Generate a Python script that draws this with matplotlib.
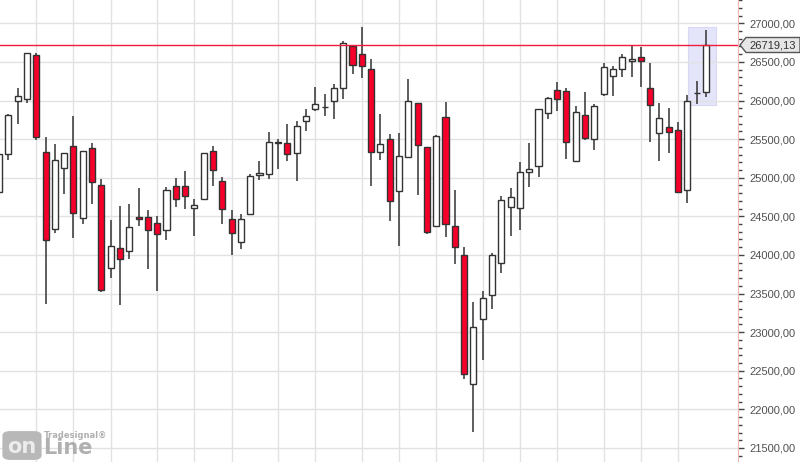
import numpy as np
import matplotlib
matplotlib.use("Agg")
import matplotlib.pyplot as plt
from matplotlib.patches import Polygon, FancyBboxPatch, Rectangle
from matplotlib.ticker import MultipleLocator, FuncFormatter

# weekly candles
opens = [24811, 25312, 25990, 26024, 26586, 25338, 24341, 25122, 25407, 24475,
         25381, 24902, 23827, 24086, 24047, 24487, 24487, 24410, 24319, 24889,
         24889, 24604, 24729, 25342, 24954, 24462, 24164, 24526, 25031, 25044,
         25459, 25446, 25325, 25735, 25886, 25910, 25990, 26158, 26702, 26599,
         26404, 25329, 25498, 24824, 25265, 25964, 25394, 24371, 25783, 24371,
         23995, 22325, 23167, 23477, 23892, 24617, 24604, 25070, 25148, 25843,
         26132, 26119, 25213, 25809, 25498, 26080, 26314, 26404, 26508, 26560,
         26158, 25575, 25653, 25614, 24837, 26093, 26106]
highs = [25350, 25820, 26163, 26615, 26611, 25528, 25437, 25320, 25800, 25345,
         25446, 24980, 24453, 24634, 24660, 24867, 24582, 24505, 24876, 24993,
         25088, 24721, 25325, 25411, 25006, 24582, 24531, 25049, 25213, 25593,
         25498, 25696, 25735, 25891, 26175, 26085, 26214, 26767, 26724, 26948,
         26534, 25826, 25562, 25580, 26279, 25970, 25400, 25554, 25981, 24841,
         24103, 23391, 23533, 24021, 24759, 24867, 25204, 25450, 25890, 26050,
         26240, 26158, 25925, 26111, 25951, 26486, 26443, 26603, 26706, 26693,
         26491, 25968, 25908, 25722, 26068, 26253, 26914]
lows = [24780, 25234, 25701, 25973, 25489, 23361, 24289, 24794, 24224, 24397,
        24665, 23516, 23706, 23348, 23952, 24375, 23823, 23533, 24198, 24626,
        24600, 24250, 24716, 24898, 24405, 24004, 24082, 24520, 24975, 24988,
        25118, 25221, 24962, 25610, 25870, 25804, 25757, 26024, 26348, 26296,
        24898, 25234, 24444, 24121, 25260, 24781, 24267, 24365, 24237, 23887,
        22398, 21712, 22644, 23305, 23771, 24250, 24323, 24885, 25014, 25765,
        25869, 25247, 25210, 25493, 25364, 26063, 26063, 26309, 26309, 26180,
        25467, 25221, 25325, 24807, 24677, 25960, 26050]
closes = [25303, 25809, 26063, 26611, 25524, 24194, 25226, 25316, 24539, 25342,
          24949, 23542, 24112, 23944, 24358, 24462, 24319, 24267, 24837, 24721,
          24759, 24643, 25316, 25096, 24591, 24280, 24462, 25018, 25057, 25459,
          25450, 25312, 25666, 25796, 25960, 25915, 26158, 26741, 26456, 26443,
          25338, 25442, 24695, 25278, 25990, 25420, 24293, 25537, 24397, 24099,
          22454, 23063, 23438, 23995, 24708, 24747, 25070, 25109, 25886, 26029,
          26024, 25459, 25847, 25511, 25925, 26430, 26413, 26560, 26542, 26508,
          25938, 25770, 25588, 24820, 25990, 26093, 26719.13]
month_starts = [4, 8, 12, 17, 21, 25, 30, 34, 39, 43, 47, 52, 56, 60, 65, 69, 73]
last_price = 26719.13
highlight = (74.1, 77.1, 25938, 26948)

opens = np.array(opens, dtype=float)
closes = np.array(closes, dtype=float)
x = np.arange(len(opens))

fig = plt.figure(figsize=(8, 4.62), dpi=100)
ax = fig.add_axes([0, 0, 738.3 / 800, 1])
ax.set_xlim(0.1, 79.48)
ax.set_ylim(21318, 27302)

# grid
ax.yaxis.set_major_locator(MultipleLocator(500))
ax.yaxis.set_minor_locator(MultipleLocator(100))
ax.grid(axis="y", color="#e2e2e2", lw=1, zorder=0)
for m in month_starts:
    ax.axvline(m, color="#e2e2e2", lw=1, zorder=0)

# highlight box on the last two candles
ax.add_patch(Rectangle((highlight[0], highlight[2]), highlight[1] - highlight[0],
                       highlight[3] - highlight[2], facecolor="#e4e4fb",
                       edgecolor="#d8d8f4", lw=0.8, zorder=1))

# candles
ax.vlines(x, lows, highs, color="#333333", lw=1.1, zorder=2)
bottoms = np.minimum(opens, closes)
heights = np.abs(closes - opens)
colors = np.where(closes < opens, "#f5002a", "#ffffff")
ax.bar(x, heights, bottom=bottoms, width=0.65, color=colors,
       edgecolor="#333333", linewidth=1.0, zorder=3)

ax.axhline(last_price, color="#f01c3c", lw=1, zorder=4)

# right axis
for s in ["left", "top", "bottom"]:
    ax.spines[s].set_visible(False)
ax.spines["right"].set_color("#f0b4b4")
ax.yaxis.tick_right()
ax.set_xticks([])
ax.yaxis.set_major_formatter(FuncFormatter(lambda v, p: f"{v:.2f}".replace(".", ",")))
ax.tick_params(axis="y", which="major", length=4, width=1, color="#444444",
               labelsize=8, labelcolor="#505050", pad=4)
ax.tick_params(axis="y", which="minor", length=3, width=1, color="#444444")
for t in ax.get_yticklabels():
    t.set_fontfamily("Liberation Sans")

# price tag
yp = ax.transData.transform((0, last_price))[1]
tag = Polygon([(740, yp), (746, yp + 7.5), (800, yp + 7.5), (800, yp - 7.5), (746, yp - 7.5)],
              closed=True, transform=None, facecolor="#e6e6e6", edgecolor="#555555",
              lw=1, zorder=10, clip_on=False)
fig.patches.append(tag)
fig.text(749 / 800, yp / 462, f"{last_price:.2f}".replace(".", ","), fontsize=8,
         family="Liberation Sans", color="#333333", va="center", ha="left", zorder=11)

# logo
fig.patches.append(FancyBboxPatch((4 / 800, 3 / 462), 36 / 800, 27 / 462,
                                  boxstyle="round,pad=0.002,rounding_size=0.01",
                                  transform=fig.transFigure, facecolor="#b8b8b8",
                                  edgecolor="none", zorder=5))
fig.text(22 / 800, 15 / 462, "on", fontsize=15, fontweight="bold", color="#ececec",
         ha="center", va="center", zorder=6)
fig.text(43 / 800, 14 / 462, "Line", fontsize=15, fontweight="bold", color="#b0b0b0",
         ha="left", va="center", zorder=6)
fig.text(44 / 800, 27 / 462, "Tradesignal®", fontsize=6, fontweight="bold", color="#b0b0b0",
         ha="left", va="center", zorder=6)

fig.savefig("out.png", dpi=100)
